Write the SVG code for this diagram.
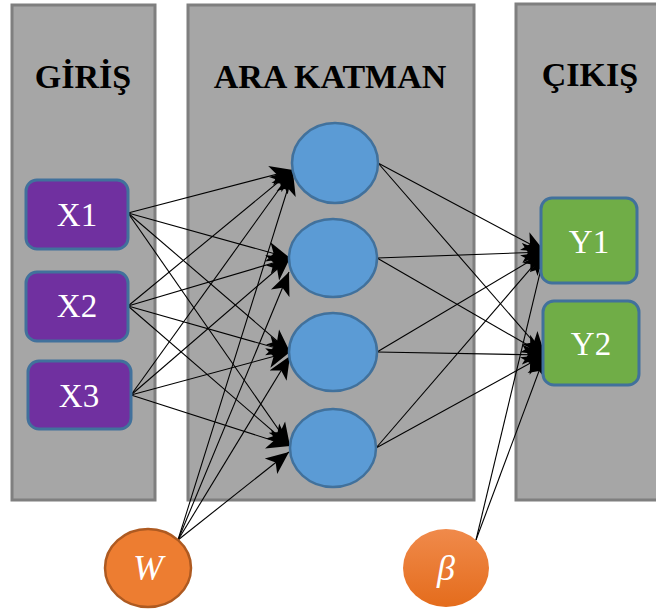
<svg xmlns="http://www.w3.org/2000/svg" width="656" height="614" viewBox="0 0 656 614">
  <defs>
    <marker id="arrow" markerUnits="userSpaceOnUse" markerWidth="26" markerHeight="22" refX="23" refY="11" orient="auto">
      <path d="M0,1 L23,11 L0,21 L6,11 Z" fill="#000"/>
    </marker>
    <linearGradient id="betaFill" x1="0" y1="0" x2="0" y2="1">
      <stop offset="0" stop-color="#f08a4b"/>
      <stop offset="1" stop-color="#e46c1c"/>
    </linearGradient>
    <style>
      .panel { fill: #a6a6a6; stroke: #7f7f7f; stroke-width: 3; }
      .title { font-family: "Liberation Serif", "Times New Roman", serif; font-weight: bold; font-size: 34px; fill: #000; text-anchor: middle; }
      .inBox { fill: #7030a0; stroke: #41719c; stroke-width: 3; }
      .outBox { fill: #70ad47; stroke: #41719c; stroke-width: 3; }
      .hidden { fill: #5b9bd5; stroke: #41719c; stroke-width: 2.5; }
      .lbl { font-family: "Liberation Serif", "Times New Roman", serif; font-size: 33px; fill: #fff; text-anchor: middle; }
      .sym { font-family: "Liberation Serif", "Times New Roman", serif; font-style: italic; font-size: 36px; fill: #fff; text-anchor: middle; }
      .edge { stroke: #000; stroke-width: 1.1; fill: none; marker-end: url(#arrow); }
    </style>
  </defs>

  <!-- layer panels -->
  <g id="panel-input">
    <rect class="panel" x="12" y="5" width="143" height="495"/>
    <text class="title" x="83" y="88">GİRİŞ</text>
  </g>
  <g id="panel-hidden">
    <rect class="panel" x="188" y="5" width="286" height="495"/>
    <text class="title" x="330" y="88">ARA KATMAN</text>
  </g>
  <g id="panel-output">
    <rect class="panel" x="516" y="4" width="150" height="496"/>
    <text class="title" x="590" y="86">ÇIKIŞ</text>
  </g>

  <!-- connectors -->
  <g id="connectors">
    <!-- inputs to hidden layer -->
    <line class="edge" x1="128" y1="213" x2="293" y2="170"/>
    <line class="edge" x1="128" y1="213" x2="290" y2="258"/>
    <line class="edge" x1="128" y1="213" x2="290" y2="352"/>
    <line class="edge" x1="128" y1="213" x2="290" y2="446"/>
    <line class="edge" x1="128" y1="306" x2="293" y2="170"/>
    <line class="edge" x1="128" y1="306" x2="290" y2="258"/>
    <line class="edge" x1="128" y1="306" x2="290" y2="352"/>
    <line class="edge" x1="128" y1="306" x2="290" y2="446"/>
    <line class="edge" x1="131" y1="395" x2="293" y2="170"/>
    <line class="edge" x1="131" y1="395" x2="290" y2="258"/>
    <line class="edge" x1="131" y1="395" x2="290" y2="352"/>
    <line class="edge" x1="131" y1="395" x2="290" y2="446"/>
    <!-- weights to hidden layer -->
    <line class="edge" x1="178" y1="540" x2="293" y2="172"/>
    <line class="edge" x1="178" y1="540" x2="289" y2="272"/>
    <line class="edge" x1="178" y1="540" x2="290" y2="356"/>
    <line class="edge" x1="178" y1="540" x2="289" y2="452"/>
    <!-- hidden layer to outputs -->
    <line class="edge" x1="378" y1="163" x2="545" y2="252"/>
    <line class="edge" x1="378" y1="163" x2="545" y2="355"/>
    <line class="edge" x1="377" y1="258" x2="545" y2="252"/>
    <line class="edge" x1="377" y1="258" x2="545" y2="355"/>
    <line class="edge" x1="377" y1="352" x2="545" y2="252"/>
    <line class="edge" x1="377" y1="352" x2="545" y2="355"/>
    <line class="edge" x1="376" y1="448" x2="545" y2="252"/>
    <line class="edge" x1="376" y1="448" x2="545" y2="355"/>
    <!-- bias to outputs -->
    <line class="edge" x1="476" y1="540" x2="545" y2="252"/>
    <line class="edge" x1="476" y1="540" x2="545" y2="355"/>
  </g>

  <!-- input nodes -->
  <g id="x1">
    <rect class="inBox" x="26" y="180" width="102" height="69" rx="11"/>
    <text class="lbl" x="77" y="226">X1</text>
  </g>
  <g id="x2">
    <rect class="inBox" x="26" y="272" width="102" height="69" rx="11"/>
    <text class="lbl" x="77" y="317">X2</text>
  </g>
  <g id="x3">
    <rect class="inBox" x="28" y="361" width="103" height="68" rx="11"/>
    <text class="lbl" x="79" y="407">X3</text>
  </g>

  <!-- hidden nodes -->
  <g id="h1"><ellipse class="hidden" cx="335" cy="163" rx="43" ry="40"/></g>
  <g id="h2"><ellipse class="hidden" cx="333" cy="258" rx="44" ry="39"/></g>
  <g id="h3"><ellipse class="hidden" cx="333" cy="352" rx="44" ry="39"/></g>
  <g id="h4"><ellipse class="hidden" cx="333" cy="448" rx="43" ry="39"/></g>

  <!-- output nodes -->
  <g id="y1">
    <rect class="outBox" x="541" y="198" width="96" height="85" rx="11"/>
    <text class="lbl" x="589" y="253">Y1</text>
  </g>
  <g id="y2">
    <rect class="outBox" x="543" y="301" width="96" height="84" rx="11"/>
    <text class="lbl" x="591" y="355">Y2</text>
  </g>

  <!-- weight and bias nodes -->
  <g id="w">
    <ellipse cx="148" cy="568" rx="43" ry="39" fill="#ed7d31" stroke="#ae5a21" stroke-width="2.5"/>
    <text class="sym" x="148" y="580">W</text>
  </g>
  <g id="beta">
    <ellipse cx="446" cy="568" rx="43" ry="39" fill="url(#betaFill)"/>
    <text class="sym" x="446" y="580">β</text>
  </g>
</svg>
